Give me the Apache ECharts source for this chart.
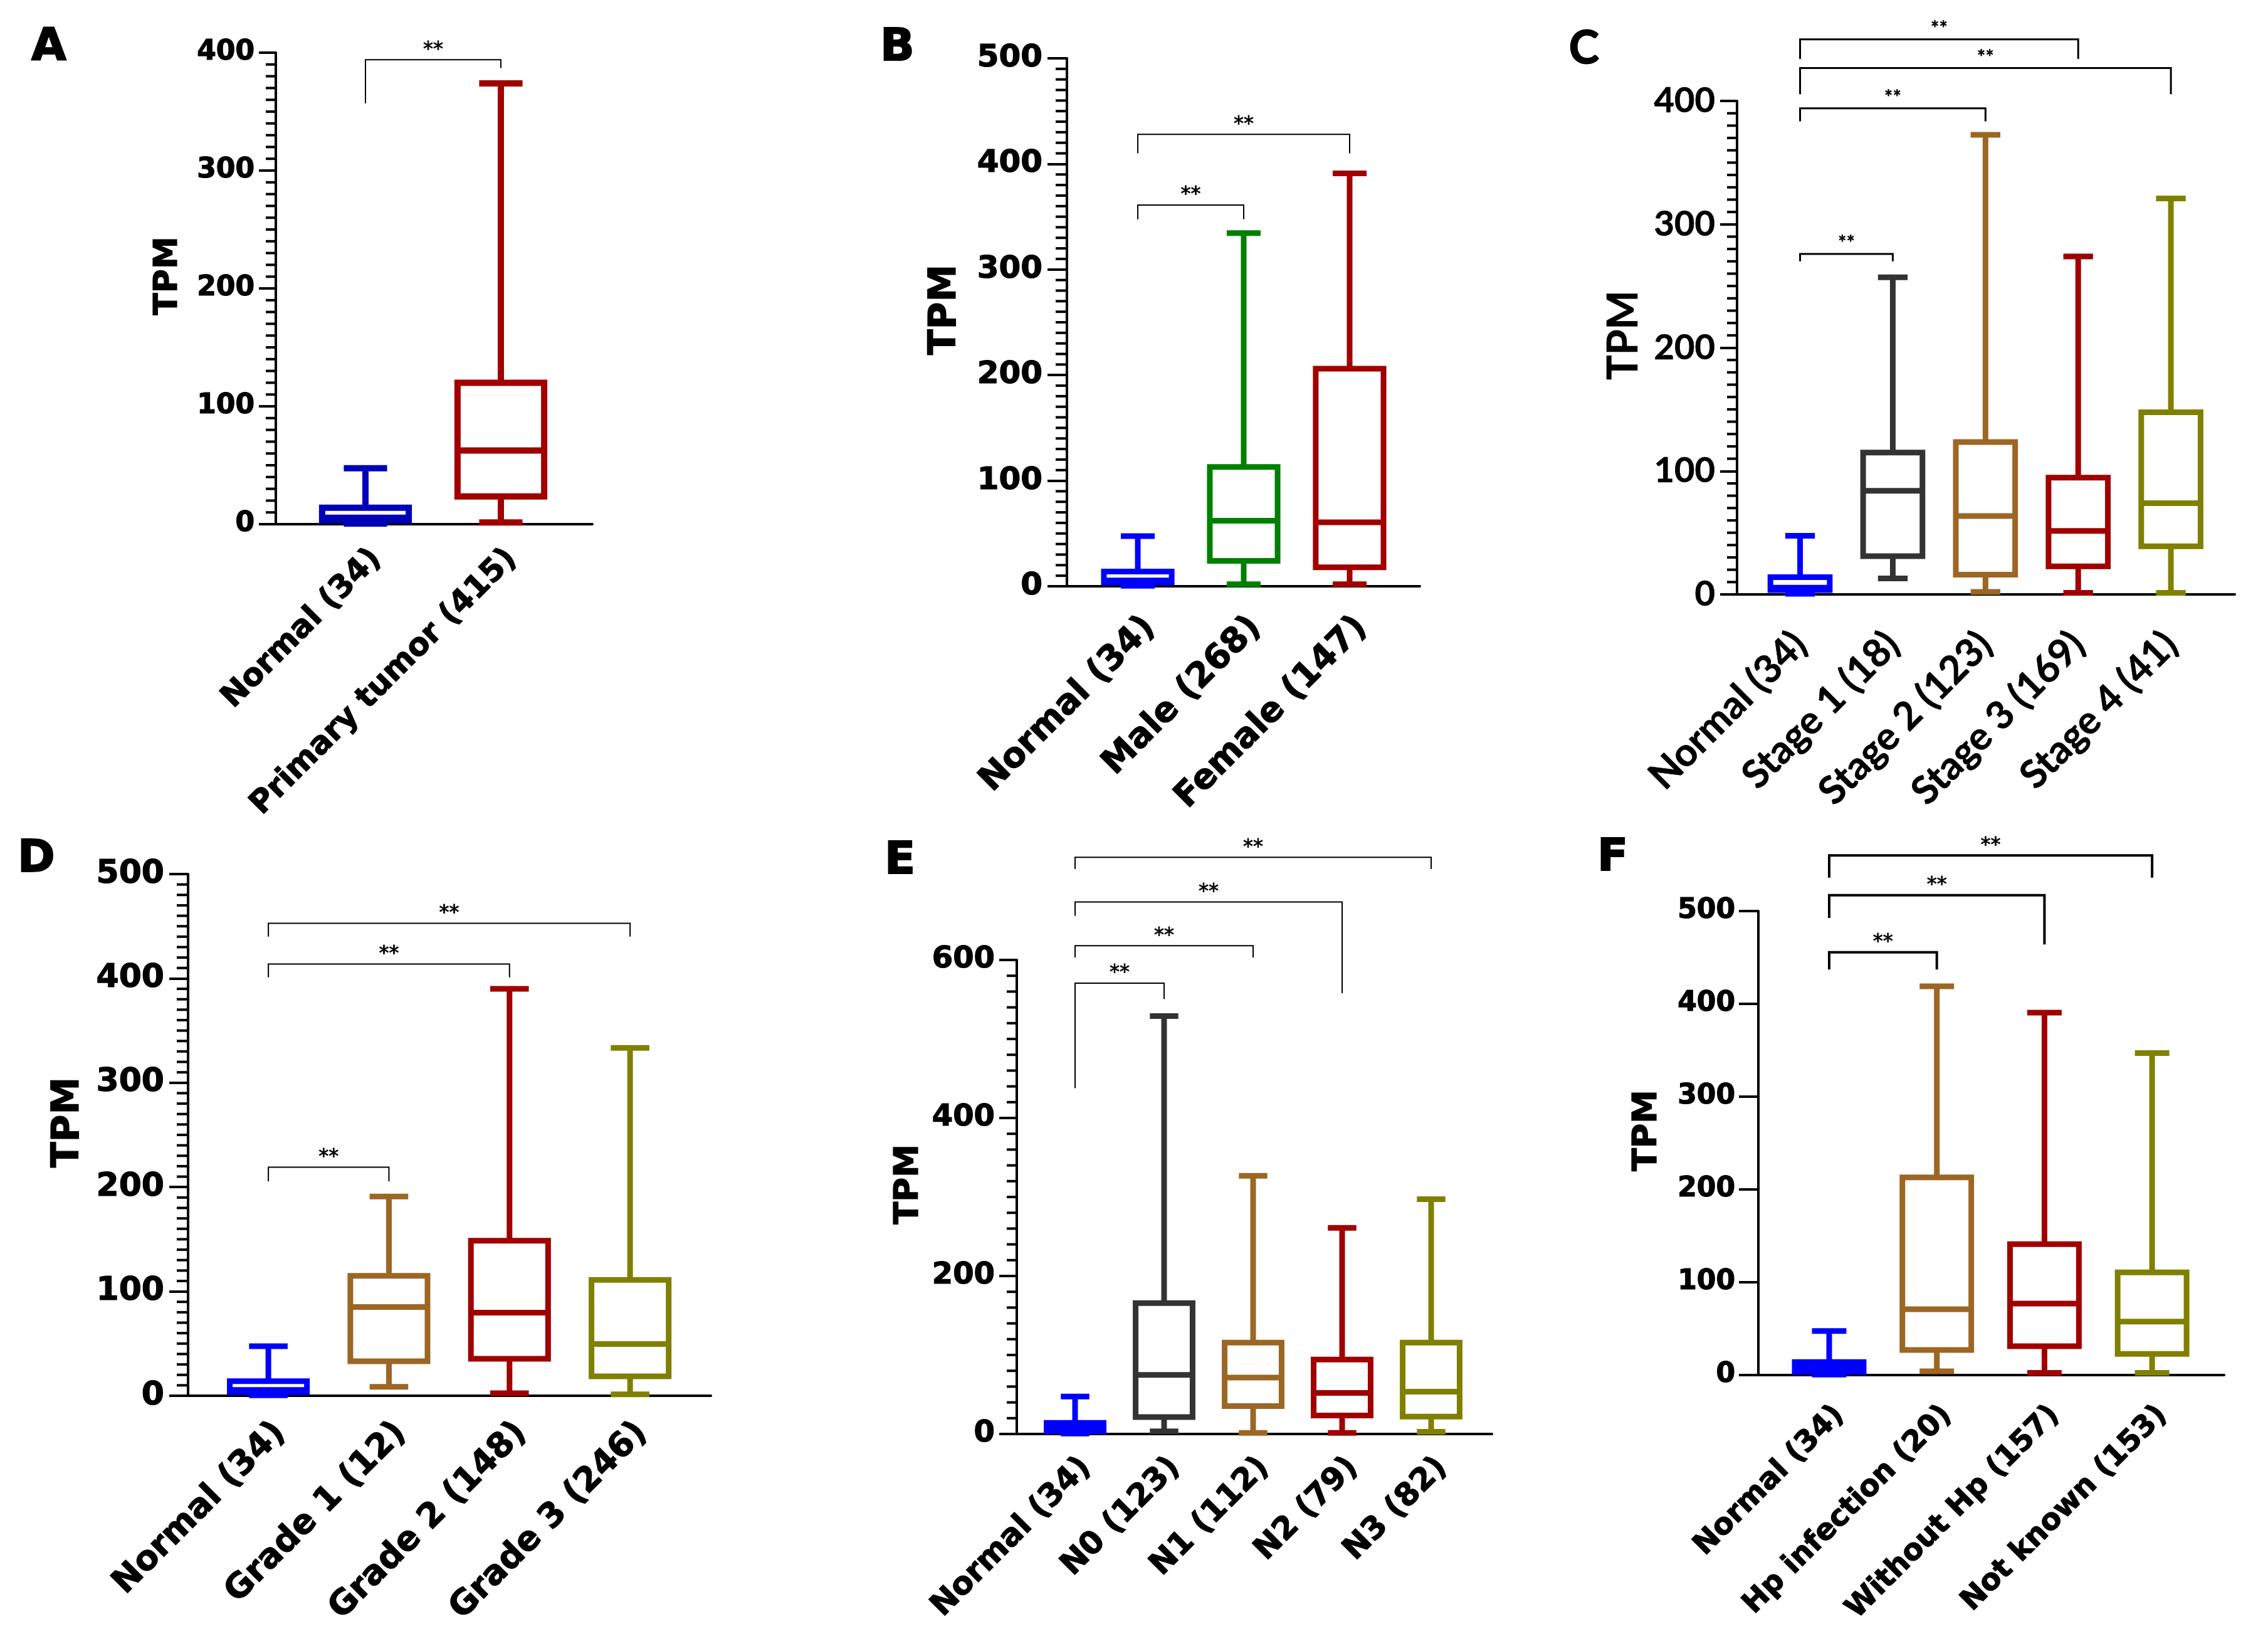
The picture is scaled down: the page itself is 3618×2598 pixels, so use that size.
<!DOCTYPE html>
<html>
<head>
<meta charset="utf-8">
<title>TPM boxplots</title>
<script src="https://cdn.jsdelivr.net/npm/echarts@6/dist/echarts.min.js"></script>
<style>
  html, body { margin: 0; padding: 0; background: #fff; }
  #chart { width: 3618px; height: 2598px; }
</style>
</head>
<body>
<div id="chart"></div>
<script>
// box stats: [min, q1, median, q3, max]
const normalStats = [0.5, 3.5, 5.5, 14, 47.5];

const catsA = ['Normal (34)', 'Primary tumor (415)'];
const statsA = [normalStats, [1.5, 23.5, 62.5, 120, 374]];
const sigA = [[0, 1, 394, 357, 387]];

const catsB = ['Normal (34)', 'Male (268)', 'Female (147)'];
const statsB = [normalStats, [2, 24, 62, 113, 334.5], [2, 18, 60.5, 206, 391]];
const sigB = [[0, 1, 361, 347.5, 347.5], [0, 2, 428, 410, 410]];

const catsC = ['Normal (34)', 'Stage 1 (18)', 'Stage 2 (123)', 'Stage 3 (169)', 'Stage 4 (41)'];
const statsC = [normalStats, [13, 31, 84, 115, 257], [2, 16, 63.5, 123.5, 372.5],
                [1.3, 22.7, 51.5, 94.7, 274], [1.3, 39, 74, 147.6, 321]];
const sigC = [[0, 1, 276, 270, 270], [0, 2, 394, 383.5, 383.5], [0, 4, 426.7, 405.5, 405.5], [0, 3, 450, 434, 434]];

const catsD = ['Normal (34)', 'Grade 1 (12)', 'Grade 2 (148)', 'Grade 3 (246)'];
const statsD = [normalStats, [8.5, 33, 85, 115, 191], [2.4, 35.4, 79.6, 148.6, 390], [1.4, 18.6, 49.6, 111, 333.4]];
const sigD = [[0, 1, 219, 205.6, 205.6], [0, 2, 413.7, 401, 401], [0, 3, 452.8, 440, 440]];

const catsE = ['Normal (34)', 'N0 (123)', 'N1 (112)', 'N2 (79)', 'N3 (82)'];
const statsE = [normalStats, [3.3, 21.4, 74.8, 165.7, 529], [1.3, 35.4, 71.5, 115.6, 326.7],
                [1.3, 23.4, 52, 94.2, 261], [2.7, 22, 53.5, 115.6, 297.3]];
const sigE = [[0, 1, 570.6, 437.6, 550.5], [0, 2, 618, 603, 603], [0, 3, 673.5, 656, 558], [0, 4, 730, 715, 715]];

const catsF = ['Normal (34)', 'Hp infection (20)', 'Without Hp (157)', 'Not known (153)'];
const statsF = [normalStats, [4, 27, 71, 213, 419], [2.3, 31, 77, 141, 390.5], [2.3, 22.8, 57.6, 110.6, 347]];
const sigF = [[0, 1, 455.5, 437, 437], [0, 2, 517, 492.6, 464], [0, 3, 560, 536, 536]];

// colours
const BLUE = '#0000FF', RED = '#A00000', GREEN = '#008000', GRAY = '#333333', BROWN = '#9C6624', OLIVE = '#808000';

const DEJAVU = '"DejaVu Sans", sans-serif';
const LATO = 'Lato, "Open Sans", sans-serif';

const BOX_W = 0.64;
const CAP_W = 0.32;

// layout for each panel
const panels = [
    { letter: 'A', cats: catsA, stats: statsA, sig: sigA, colors: ['#0000BB', RED], fillFirst: false,
      grid: { left: 440, top: 84, width: 505, height: 752 }, xMin: -0.662, xMax: 1.676,
      yMax: 400, yStep: 100, minor: true, lw: 10, sigLw: 2, heavy: 1.2,
      font: DEJAVU, tickSize: 44, catSize: 50, nameSize: 52, nameGap: 146, catMargin: 30, catAlign: 'top',
      tickLen: 27, minorLen: 16, labelMargin: 34, letterPos: [50, 76] },
    { letter: 'B', cats: catsB, stats: statsB, sig: sigB, colors: [BLUE, GREEN, RED], fillFirst: false,
      grid: { left: 1702, top: 93, width: 563, height: 842 }, xMin: -0.669, xMax: 2.663,
      yMax: 500, yStep: 100, minor: true, lw: 9, sigLw: 2, heavy: 1.2,
      font: DEJAVU, tickSize: 50, catSize: 55, nameSize: 60, nameGap: 164, catMargin: 38, catAlign: 'top',
      tickLen: 31, minorLen: 18, labelMargin: 39, letterPos: [1404, 77] },
    { letter: 'C', cats: catsC, stats: statsC, sig: sigC, colors: [BLUE, GRAY, BROWN, RED, OLIVE], fillFirst: false,
      grid: { left: 2771, top: 161, width: 794, height: 787 }, xMin: -0.68, xMax: 4.689,
      yMax: 400, yStep: 100, minor: true, lw: 9, sigLw: 3, heavy: 0.6,
      font: LATO, tickSize: 56, catSize: 62, nameSize: 66, nameGap: 147, catMargin: 70, catAlign: 'middle',
      tickLen: 27, minorLen: 16, labelMargin: 35, letterPos: [2503, 78] },
    { letter: 'D', cats: catsD, stats: statsD, sig: sigD, colors: [BLUE, BROWN, RED, OLIVE], fillFirst: false,
      grid: { left: 300, top: 1394, width: 834, height: 832 }, xMin: -0.666, xMax: 3.67,
      yMax: 500, yStep: 100, minor: true, lw: 9, sigLw: 2, heavy: 1.2,
      font: DEJAVU, tickSize: 52, catSize: 54, nameSize: 60, nameGap: 161, catMargin: 32, catAlign: 'top',
      tickLen: 30, minorLen: 18, labelMargin: 38, letterPos: [28, 1371] },
    { letter: 'E', cats: catsE, stats: statsE, sig: sigE, colors: [BLUE, GRAY, BROWN, RED, OLIVE], fillFirst: true,
      grid: { left: 1622, top: 1531, width: 758, height: 756 }, xMin: -0.655, xMax: 4.683,
      yMax: 600, yStep: 200, minor: true, lw: 9, sigLw: 2, heavy: 1.2,
      font: DEJAVU, tickSize: 48, catSize: 50, nameSize: 53, nameGap: 145, catMargin: 28, catAlign: 'top',
      tickLen: 28, minorLen: 16, labelMargin: 35, letterPos: [1411, 1374] },
    { letter: 'F', cats: catsF, stats: statsF, sig: sigF, colors: [BLUE, BROWN, RED, OLIVE], fillFirst: true,
      grid: { left: 2805, top: 1453, width: 743, height: 740 }, xMin: -0.658, xMax: 3.669,
      yMax: 500, yStep: 100, minor: false, lw: 9, sigLw: 4, heavy: 1.2,
      font: DEJAVU, tickSize: 44, catSize: 47, nameSize: 54, nameGap: 150, catMargin: 40, catAlign: 'top',
      tickLen: 31, minorLen: 0, labelMargin: 37, letterPos: [2548, 1369] }
];

// minor tick values between the labelled ticks (Prism style y axis)
function minorValues(p) {
    const out = [];
    const sub = p.yStep / 10;
    for (let i = 1; i < p.yMax / sub; i++) {
        if (i % 10 !== 0) out.push([p.xMin, i * sub]);
    }
    return out;
}

// box + whiskers drawn through the axes
function boxRenderer(p) {
    return function (params, api) {
        const x = api.value(0);
        const mn = api.value(1), q1 = api.value(2), md = api.value(3), q3 = api.value(4), mx = api.value(5);
        const bw = api.size([BOX_W, 0])[0];
        const cw = api.size([CAP_W, 0])[0];
        const cx = api.coord([x, md])[0];
        const y = v => api.coord([x, v])[1];
        const color = p.colors[params.dataIndex];
        const st = { stroke: color, lineWidth: p.lw, fill: 'none' };
        const boxFill = (p.fillFirst && params.dataIndex === 0) ? color : 'none';
        return {
            type: 'group',
            children: [
                { type: 'line', shape: { x1: cx, y1: y(q3), x2: cx, y2: y(mx) }, style: st },
                { type: 'line', shape: { x1: cx, y1: y(q1), x2: cx, y2: y(mn) }, style: st },
                { type: 'line', shape: { x1: cx - cw / 2, y1: y(mx), x2: cx + cw / 2, y2: y(mx) }, style: st },
                { type: 'line', shape: { x1: cx - cw / 2, y1: y(mn), x2: cx + cw / 2, y2: y(mn) }, style: st },
                { type: 'rect', shape: { x: cx - bw / 2, y: y(q3), width: bw, height: y(q1) - y(q3) },
                  style: { stroke: color, lineWidth: p.lw, fill: boxFill } },
                { type: 'line', shape: { x1: cx - bw / 2, y1: y(md), x2: cx + bw / 2, y2: y(md) }, style: st }
            ]
        };
    };
}

// significance brackets with **
function sigRenderer(p) {
    return function (params, api) {
        const i = api.value(0), j = api.value(1), top = api.value(2);
        const a = api.coord([i, api.value(3)]);
        const b = api.coord([i, top]);
        const c = api.coord([j, top]);
        const d = api.coord([j, api.value(4)]);
        return {
            type: 'group',
            children: [
                { type: 'polyline', shape: { points: [a, b, c, d] },
                  style: { stroke: '#000', lineWidth: p.sigLw, fill: 'none' } },
                { type: 'text', x: (b[0] + c[0]) / 2, y: b[1] - 16,
                  style: { text: '**', fill: '#000', font: '32px ' + p.font, align: 'center', verticalAlign: 'middle',
                           stroke: '#000', lineWidth: 0.8 } }
            ]
        };
    };
}

// short minor ticks left of the y axis
function minorTickRenderer(p) {
    return function (params, api) {
        const pt = api.coord([api.value(0), api.value(1)]);
        return { type: 'rect', shape: { x: pt[0] - p.minorLen, y: pt[1] - 2, width: p.minorLen, height: 4 },
                 style: { fill: '#000' } };
    };
}

const option = {
    backgroundColor: '#fff',
    animation: false,
    grid: [], xAxis: [], yAxis: [], series: [], graphic: []
};

panels.forEach((p, k) => {
    const txt = (size) => ({
        color: '#000', fontSize: size, fontWeight: 'bold', fontFamily: p.font,
        textBorderColor: '#000', textBorderWidth: p.heavy
    });
    option.grid.push(Object.assign({ containLabel: false }, p.grid));
    option.xAxis.push({
        type: 'value', gridIndex: k, min: p.xMin, max: p.xMax,
        splitLine: { show: false }, axisTick: { show: false },
        axisLine: { show: true, onZero: false, lineStyle: { color: '#000', width: 4 } },
        axisLabel: Object.assign(txt(p.catSize), {
            customValues: p.cats.map((c, i) => i),
            formatter: v => p.cats[Math.round(v)] || '',
            rotate: 45, margin: p.catMargin, verticalAlign: p.catAlign
        })
    });
    option.yAxis.push({
        type: 'value', gridIndex: k, min: 0, max: p.yMax, interval: p.yStep,
        name: 'TPM', nameLocation: 'middle', nameRotate: 90, nameGap: p.nameGap,
        nameTextStyle: Object.assign(txt(p.nameSize), { padding: [0, 0, 0, 40] }),
        splitLine: { show: false },
        axisLine: { show: true, onZero: false, lineStyle: { color: '#000', width: 4 } },
        axisTick: { show: true, length: p.tickLen, lineStyle: { color: '#000', width: 4 } },
        axisLabel: Object.assign(txt(p.tickSize), { margin: p.labelMargin })
    });
    option.series.push({
        type: 'custom', xAxisIndex: k, yAxisIndex: k, clip: false, silent: true,
        encode: { x: 0, y: [1, 2, 3, 4, 5] },
        renderItem: boxRenderer(p),
        data: p.stats.map((s, i) => [i].concat(s))
    });
    option.series.push({
        type: 'custom', xAxisIndex: k, yAxisIndex: k, clip: false, silent: true,
        encode: { x: [0, 1], y: [2, 3, 4] },
        renderItem: sigRenderer(p),
        data: p.sig
    });
    if (p.minor) {
        option.series.push({
            type: 'custom', xAxisIndex: k, yAxisIndex: k, clip: false, silent: true, z: 10,
            encode: { x: 0, y: 1 },
            renderItem: minorTickRenderer(p),
            data: minorValues(p)
        });
    }
    option.graphic.push({
        type: 'text', x: p.letterPos[0], y: p.letterPos[1],
        style: { text: p.letter, fill: '#000', font: 'bold 72px ' + p.font, align: 'left', verticalAlign: 'middle',
                 stroke: '#000', lineWidth: 2 }
    });
});

const chart = echarts.init(document.getElementById('chart'));
chart.setOption(option);
</script>
</body>
</html>
